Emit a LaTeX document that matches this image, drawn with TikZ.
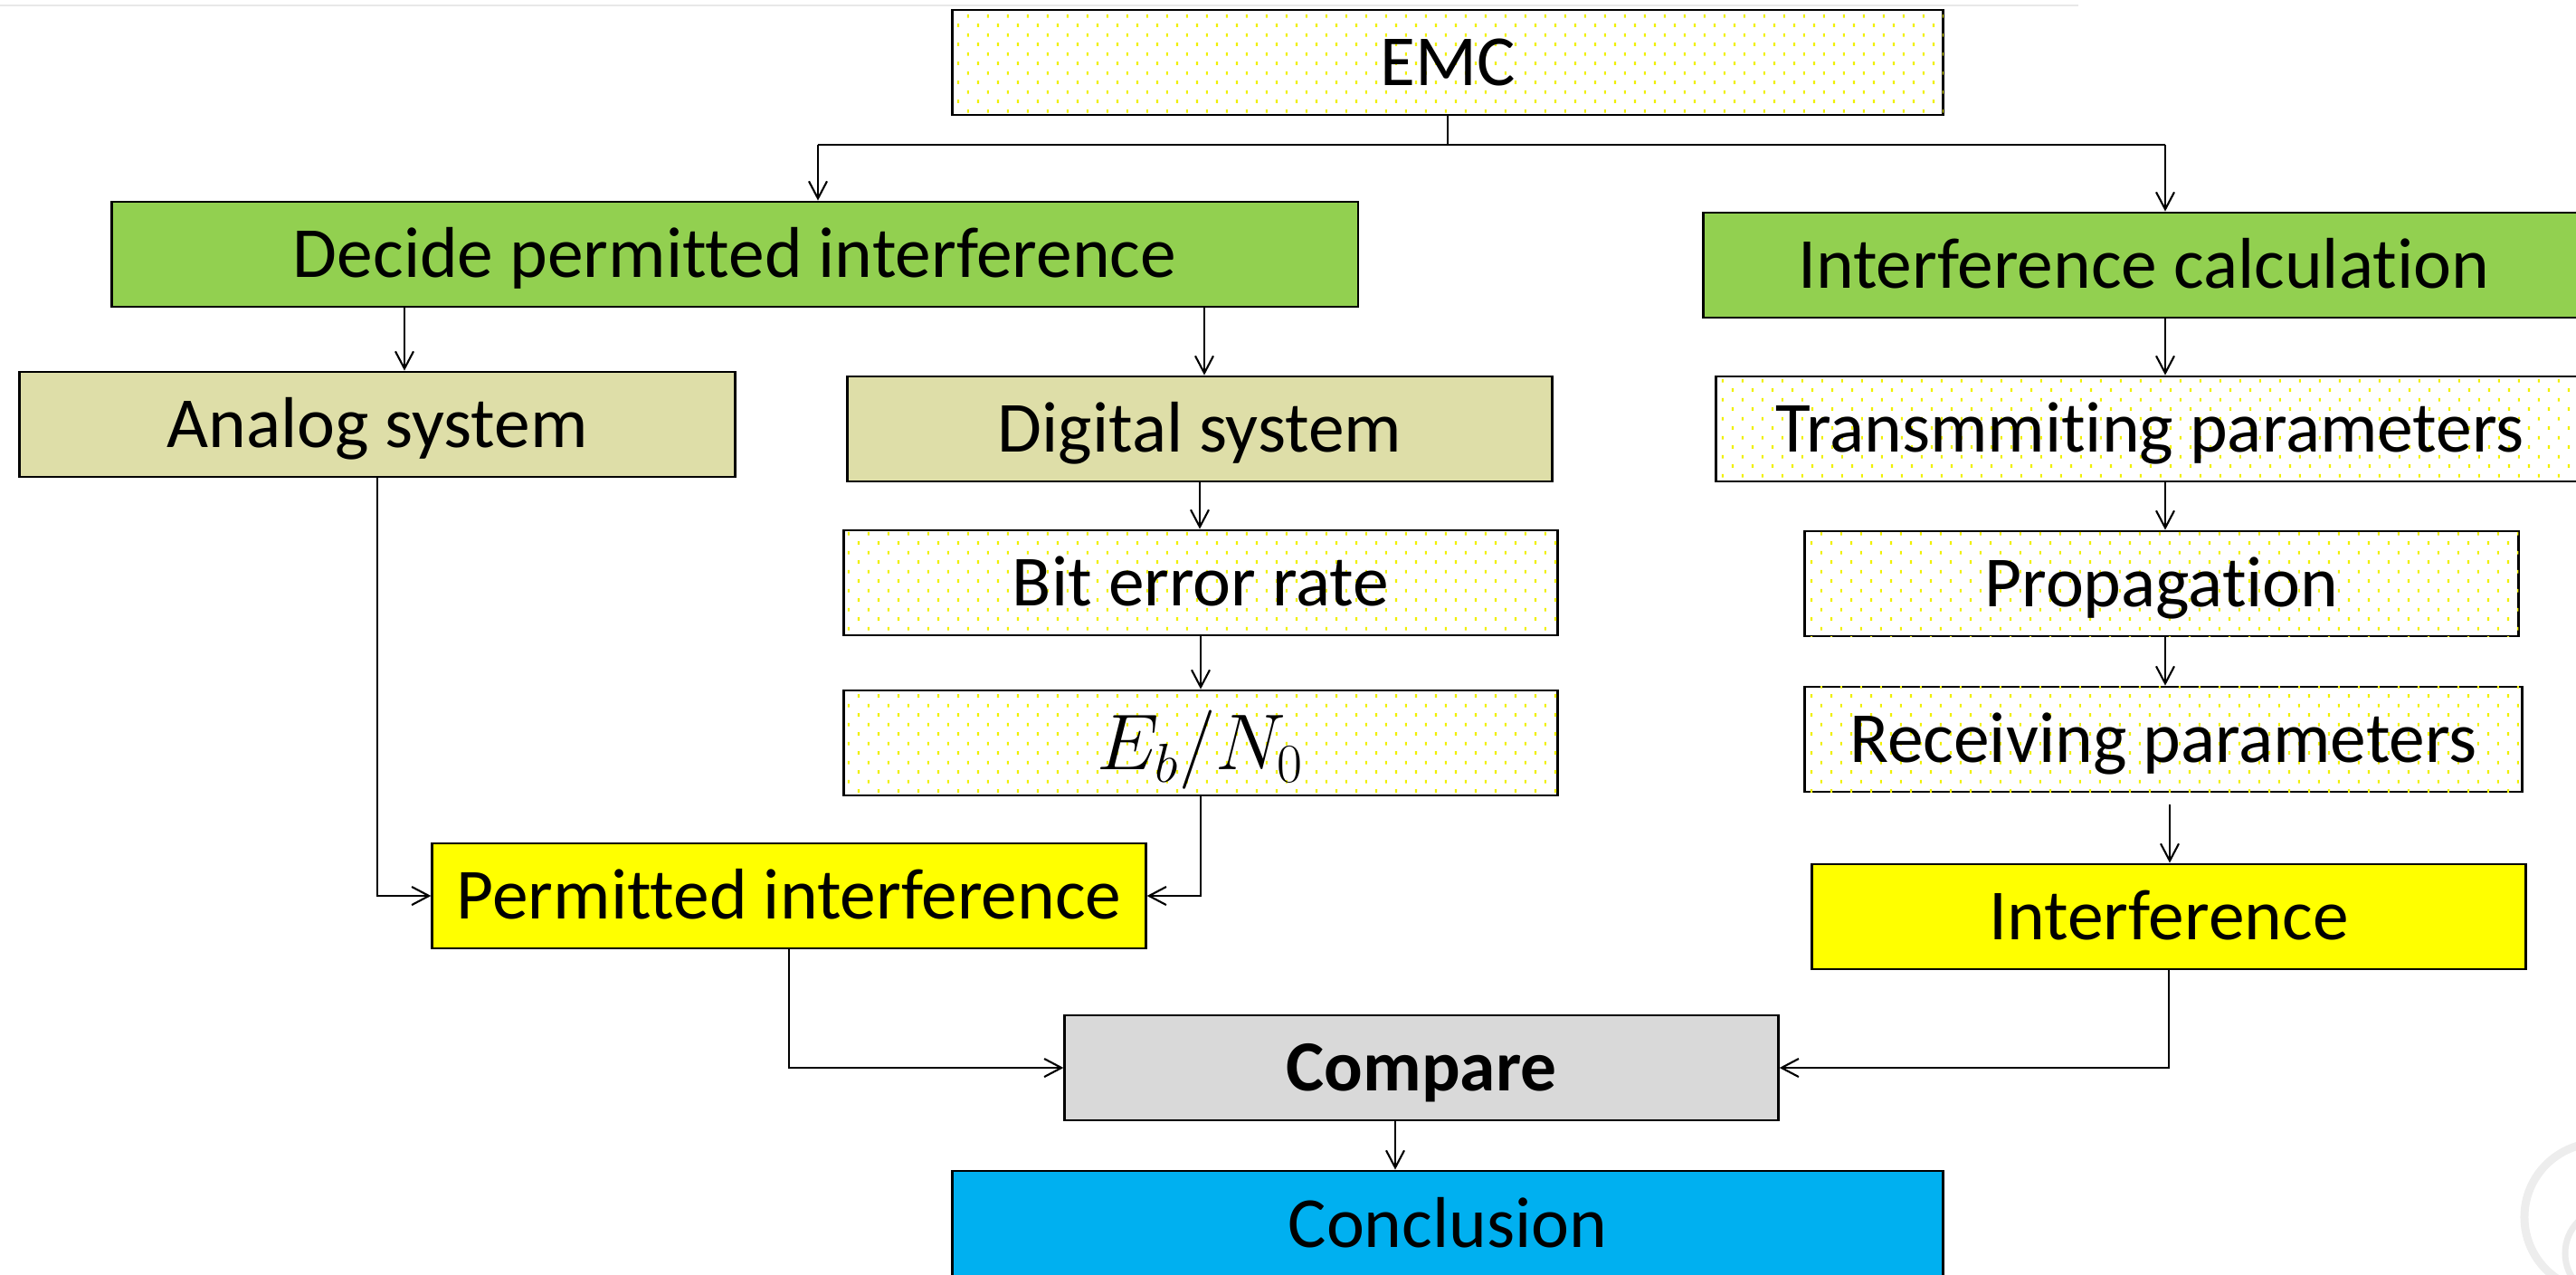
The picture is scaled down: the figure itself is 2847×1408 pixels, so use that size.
\documentclass[tikz,border=0pt]{standalone}
\usepackage{fontspec}
\setmainfont{Carlito}[Ligatures=NoCommon]
\usetikzlibrary{arrows.meta,patterns.meta}

\definecolor{leafgreen}{HTML}{92D050}
\definecolor{olivetan}{HTML}{DEDEA8}
\definecolor{brightyellow}{HTML}{FFFF00}
\definecolor{lightgrey}{HTML}{D9D9D9}
\definecolor{skyblue}{HTML}{00B0F0}
\definecolor{dotyellow}{HTML}{F0F000}

% staggered grid of small yellow dashes used as the light box fill
\tikzdeclarepattern{
  name=yellowdots,
  type=uncolored,
  bottom left={(0pt,0pt)},
  top right={(6.24pt,6.02pt)},
  tile size={(6.24pt,6.02pt)},
  code={
    \pgfpathrectangle{\pgfpoint{1.4pt}{0.9pt}}{\pgfpoint{0.6pt}{1.1pt}}
    \pgfpathrectangle{\pgfpoint{4.5pt}{3.9pt}}{\pgfpoint{0.6pt}{1.1pt}}
    \pgfusepath{fill}
  }
}

\begin{document}
\begin{tikzpicture}[x=0.01cm, y=-0.01cm,
  font=\fontsize{22.6pt}{27pt}\selectfont,
  box/.style={draw, line width=0.8pt, minimum height=1.16cm, inner sep=0pt,
    text height=14.3pt, text depth=0pt},
  dotbox/.style={box, fill=white, postaction={pattern=yellowdots, pattern color=dotyellow}},
  link/.style={line width=0.6pt},
  arr/.style={link, -{Straight Barb[length=5.4pt,width=5.7pt]}},
]
\useasboundingbox (0,0) rectangle (2847,1408);

% faint rule along the top edge and faint logo in the corner
\draw[line width=0.02cm, black!9] (0,6) -- (2297,6);
\draw[black!7, line width=0.09cm] (2872,1345) circle[radius=0.82cm];
\draw[black!8, line width=0.07cm] (2885,1385) circle[radius=0.5cm];

% boxes
\node[dotbox, minimum width=10.95cm] (emc) at (1600,69) {EMC};
\node[box, fill=leafgreen, minimum width=13.77cm] (decide) at (812,281) {Decide permitted interference};
\node[box, fill=leafgreen, minimum width=9.72cm] (calc) at (2369,293) {Interference calculation};
\node[box, fill=olivetan, minimum width=7.90cm] (analog) at (417,469) {Analog system};
\node[box, fill=olivetan, minimum width=7.79cm] (digital) at (1326,474) {Digital system};
\node[dotbox, minimum width=7.88cm] (ber) at (1327,644) {Bit error rate};
\node[dotbox, minimum width=7.88cm, font=\fontsize{25pt}{30pt}\selectfont, text height=17pt] (ebno) at (1327,821) {$E_b/N_0$};
\node[box, fill=brightyellow, minimum width=7.88cm] (perm) at (872,990) {Permitted interference};
\node[dotbox, minimum width=9.58cm] (tx) at (2376,474) {Transmmiting parameters};
\node[dotbox, minimum width=7.88cm] (prop) at (2389,645) {Propagation};
\node[dotbox, minimum width=7.92cm] (rx) at (2391,817) {Receiving parameters};
\node[box, fill=brightyellow, minimum width=7.88cm] (intf) at (2397,1013) {Interference};
\node[box, fill=lightgrey, minimum width=7.88cm, font=\fontsize{22.6pt}{27pt}\selectfont\bfseries] (cmp) at (1571,1180) {Compare};
\node[box, fill=skyblue, minimum width=10.95cm, minimum height=1.18cm] (concl) at (1600,1353) {Conclusion};

% branch below EMC
\coordinate (bl) at (904,160);
\coordinate (br) at (2393,160);
\draw[link] (emc.south) -- (emc.south |- bl);
\draw[link] (bl) -- (br);
\draw[arr] (bl) -- (bl |- decide.north);
\draw[arr] (br) -- (br |- calc.north);

% left branch
\coordinate (xa) at (447,0);
\coordinate (xd) at (1331,0);
\draw[arr] (xa |- decide.south) -- (xa |- analog.north);
\draw[arr] (xd |- decide.south) -- (xd |- digital.north);
\draw[arr] (digital.south) -- (digital.south |- ber.north);
\draw[arr] (ber.south) -- (ber.south |- ebno.north);
\draw[arr] (analog.south) |- (perm.west);
\draw[arr] (ebno.south) |- (perm.east);

% right branch
\coordinate (xr) at (2393,0);
\coordinate (xi) at (2398,0);
\draw[arr] (xr |- calc.south) -- (xr |- tx.north);
\draw[arr] (xr |- tx.south) -- (xr |- prop.north);
\draw[arr] (xr |- prop.south) -- (xr |- rx.north);
\draw[arr, shorten <=0.13cm] (xi |- rx.south) -- (xi |- intf.north);

% comparison and conclusion
\coordinate (xc) at (1542,0);
\draw[arr] (perm.south) |- (cmp.west);
\draw[arr] (intf.south) |- (cmp.east);
\draw[arr] (xc |- cmp.south) -- (xc |- concl.north);
\end{tikzpicture}
\end{document}
